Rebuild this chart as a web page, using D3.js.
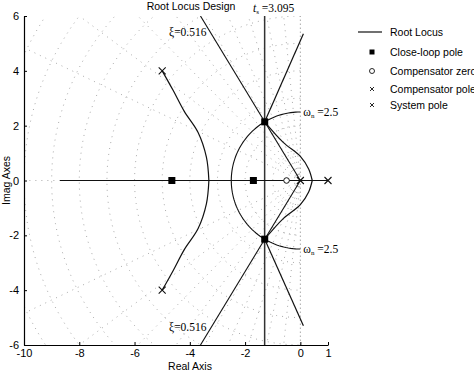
<!DOCTYPE html>
<html>
<head>
<meta charset="utf-8">
<script src="https://cdn.jsdelivr.net/npm/d3@7/dist/d3.min.js"></script>
<style>
  body { margin: 0; background: #fff; }
  text { font-family: "Liberation Sans", Arial, sans-serif; fill: #000; }
  .serif { font-family: "Liberation Serif", "Times New Roman", serif; }
</style>
</head>
<body>
<svg id="chart" width="474" height="371"></svg>
<script>
// tick labels
var xTicks = [-10, -8, -6, -4, -2, 0, 1];
var yTicks = [-6, -4, -2, 0, 2, 4, 6];

// poles and zeros [re, im]
var systemPoles = [[-5, 4], [-5, -4], [1, 0]];
var compPoles = [[0, 0]];
var compZeros = [[-0.5, 0]];
var closedPoles = [[-4.65, 0], [-1.7, 0], [-1.29, 2.14], [-1.29, -2.14]];

// locus branches
var realBranch = [[-8.7, 0], [1, 0]];
var upperLeft = [[-5, 4], [-4.6, 3.28], [-4.2, 2.52], [-3.7, 1.75], [-3.4, 0.85], [-3.31, 0]];
var lowerLeft = [[-5, -4], [-4.6, -3.28], [-4.2, -2.52], [-3.7, -1.75], [-3.4, -0.85], [-3.31, 0]];
var upperLoop = [[0.43, 0], [0.3, 0.42], [0, 0.88], [-0.62, 1.39], [-1.29, 2.14]];
var lowerLoop = [[0.43, 0], [0.3, -0.42], [0, -0.88], [-0.62, -1.39], [-1.29, -2.14]];
var upperAsym = [[-1.29, 2.14], [0.11, 5.35]];
var lowerAsym = [[-1.29, -2.14], [0.11, -5.3]];
var curvedBranches = [upperLeft, lowerLeft, upperLoop, lowerLoop];
var straightBranches = [realBranch, upperAsym, lowerAsym];

// design constraints
var xi = 0.516;
var wn = 2.5;
var ts = 3.095;

// s-plane grid
var gridZeta = [0.1, 0.2, 0.3, 0.4, 0.5, 0.6, 0.7, 0.8, 0.9];
var gridWn = [1, 2, 3, 4, 5, 6, 7, 8, 9, 10, 11, 12];

var legendItems = ["Root Locus", "Close-loop pole", "Compensator zero", "Compensator poles", "System pole"];

var margin = {left: 24, right: 328, top: 16, bottom: 345};

var x = d3.scaleLinear().domain([-10, 1]).range([margin.left, margin.right]);
var y = d3.scaleLinear().domain([-6, 6]).range([margin.bottom, margin.top]);

var svg = d3.select("#chart");

svg.append("defs").append("clipPath").attr("id", "plotclip")
  .append("rect")
  .attr("x", margin.left).attr("y", margin.top)
  .attr("width", margin.right - margin.left).attr("height", margin.bottom - margin.top);

var line = d3.line()
  .x(function(d) { return x(d[0]); })
  .y(function(d) { return y(d[1]); });
var smooth = d3.line()
  .curve(d3.curveCatmullRom)
  .x(function(d) { return x(d[0]); })
  .y(function(d) { return y(d[1]); });

// grid
var grid = svg.append("g").attr("clip-path", "url(#plotclip)")
  .attr("fill", "none")
  .attr("stroke", "#a0a0a0")
  .attr("stroke-width", 0.9)
  .attr("stroke-dasharray", "1,5");

gridZeta.forEach(function(z) {
  var a = Math.acos(z), r = 20;
  grid.append("path").attr("d", line([[0, 0], [-z * r, Math.sin(a) * r]]));
  grid.append("path").attr("d", line([[0, 0], [-z * r, -Math.sin(a) * r]]));
});
grid.append("path").attr("d", line([[0, -6], [0, 6]])).attr("stroke-dasharray", "1.5,2.5");
grid.append("path").attr("d", line([[0, 0], [-10, 0]]));

gridWn.forEach(function(w) {
  var pts = d3.range(90, 270.5, 2).map(function(deg) {
    var t = deg * Math.PI / 180;
    return [w * Math.cos(t), w * Math.sin(t)];
  });
  grid.append("path").attr("d", line(pts));
});

// axes
var fmt = function(d) { return String(d); };
var xAxis = svg.append("g")
  .attr("transform", "translate(0," + margin.bottom + ")")
  .call(d3.axisBottom(x).tickValues(xTicks).tickFormat(fmt).tickSizeInner(-3).tickSizeOuter(0).tickPadding(4));
var yAxis = svg.append("g")
  .attr("transform", "translate(" + margin.left + ",0)")
  .call(d3.axisLeft(y).tickValues(yTicks).tickFormat(fmt).tickSizeInner(-3).tickSizeOuter(0).tickPadding(5));
[xAxis, yAxis].forEach(function(a) {
  a.select(".domain").attr("stroke", "#000").attr("stroke-width", 1.2);
  a.selectAll(".tick line").attr("stroke", "#000");
  a.selectAll("text").attr("font-size", 11).attr("font-family", "Liberation Sans, Arial, sans-serif").attr("fill", "#000");
});

svg.append("text").attr("x", 190).attr("y", 370)
  .attr("text-anchor", "middle").attr("font-size", 10.5).text("Real Axis");
svg.append("text")
  .attr("transform", "translate(10," + y(0) + ") rotate(-90)")
  .attr("text-anchor", "middle").attr("font-size", 10.5).text("Imag Axes");
svg.append("text").attr("x", 191).attr("y", 10)
  .attr("text-anchor", "middle").attr("font-size", 10.5).text("Root Locus Design");

// design lines
var plot = svg.append("g").attr("clip-path", "url(#plotclip)").attr("fill", "none");

var xiSin = Math.sqrt(1 - xi * xi);
plot.append("path").attr("d", line([[0, 0], [-xi * 6 / xiSin, 6]]))
  .attr("stroke", "#111").attr("stroke-width", 1.1);
plot.append("path").attr("d", line([[0, 0], [-xi * 6 / xiSin, -6]]))
  .attr("stroke", "#111").attr("stroke-width", 1.1);

var sigma = -4 / ts;
plot.append("path").attr("d", line([[sigma, -6], [sigma, 6]]))
  .attr("stroke", "#333").attr("stroke-width", 1.5);

var arc = d3.range(90, 270.5, 2).map(function(deg) {
  var t = deg * Math.PI / 180;
  return [wn * Math.cos(t), wn * Math.sin(t)];
});
plot.append("path").attr("d", line(arc))
  .attr("stroke", "#111").attr("stroke-width", 1.1);

// root locus branches
plot.selectAll(".curved").data(curvedBranches).enter().append("path")
  .attr("class", "curved")
  .attr("d", smooth)
  .attr("stroke", "#111").attr("stroke-width", 1.2);
plot.selectAll(".straight").data(straightBranches).enter().append("path")
  .attr("class", "straight")
  .attr("d", line)
  .attr("stroke", "#111").attr("stroke-width", 1.2);

// markers
function cross(g, px, py, s, w) {
  g.append("path")
    .attr("d", "M" + (px - s) + "," + (py - s) + "L" + (px + s) + "," + (py + s) +
               "M" + (px - s) + "," + (py + s) + "L" + (px + s) + "," + (py - s))
    .attr("stroke", "#111").attr("stroke-width", w).attr("fill", "none");
}
var marks = svg.append("g");
systemPoles.concat(compPoles).forEach(function(p) {
  cross(marks, x(p[0]), y(p[1]), 3.5, 1.1);
});
marks.selectAll(".zero").data(compZeros).enter().append("circle")
  .attr("cx", function(d) { return x(d[0]); })
  .attr("cy", function(d) { return y(d[1]); })
  .attr("r", 2.8).attr("fill", "#fff").attr("stroke", "#111").attr("stroke-width", 1);
marks.selectAll(".clp").data(closedPoles).enter().append("rect")
  .attr("x", function(d) { return x(d[0]) - 3.5; })
  .attr("y", function(d) { return y(d[1]) - 3.5; })
  .attr("width", 7).attr("height", 7).attr("fill", "#000");

// annotations
svg.append("text").attr("class", "serif").attr("x", 169).attr("y", 36).attr("font-size", 11.5)
  .text("\u03be=0.516");
svg.append("text").attr("class", "serif").attr("x", 169).attr("y", 331).attr("font-size", 11.5)
  .text("\u03be=0.516");
[wn, -wn].forEach(function(v) {
  var t = svg.append("text").attr("class", "serif").attr("x", x(0) + 3).attr("y", y(v) + 4).attr("font-size", 11.5);
  t.append("tspan").text("\u03c9");
  t.append("tspan").attr("font-size", 7).attr("dy", 2).text("n");
  t.append("tspan").attr("dy", -2).text(" =2.5");
});
var tsText = svg.append("text").attr("class", "serif").attr("x", 253).attr("y", 12).attr("font-size", 11.5);
tsText.append("tspan").attr("font-style", "italic").text("t");
tsText.append("tspan").attr("font-size", 7).attr("dy", 2).text("s");
tsText.append("tspan").attr("dy", -2).text(" =3.095");

// legend
var lg = svg.append("g");
var rows = [32, 52, 71, 89, 105];
lg.append("line").attr("x1", 358).attr("x2", 382).attr("y1", rows[0]).attr("y2", rows[0])
  .attr("stroke", "#111").attr("stroke-width", 1.2);
lg.append("rect").attr("x", 369.5).attr("y", rows[1] - 2.5).attr("width", 5).attr("height", 5).attr("fill", "#000");
lg.append("circle").attr("cx", 372).attr("cy", rows[2]).attr("r", 2.5)
  .attr("fill", "none").attr("stroke", "#111").attr("stroke-width", 0.9);
cross(lg, 372, rows[3], 2, 0.9);
cross(lg, 372, rows[4], 2, 0.9);
lg.selectAll(".lt").data(legendItems).enter().append("text")
  .attr("x", 390)
  .attr("y", function(d, i) { return rows[i] + 4; })
  .attr("font-size", 10.5)
  .text(function(d) { return d; });
</script>
</body>
</html>
